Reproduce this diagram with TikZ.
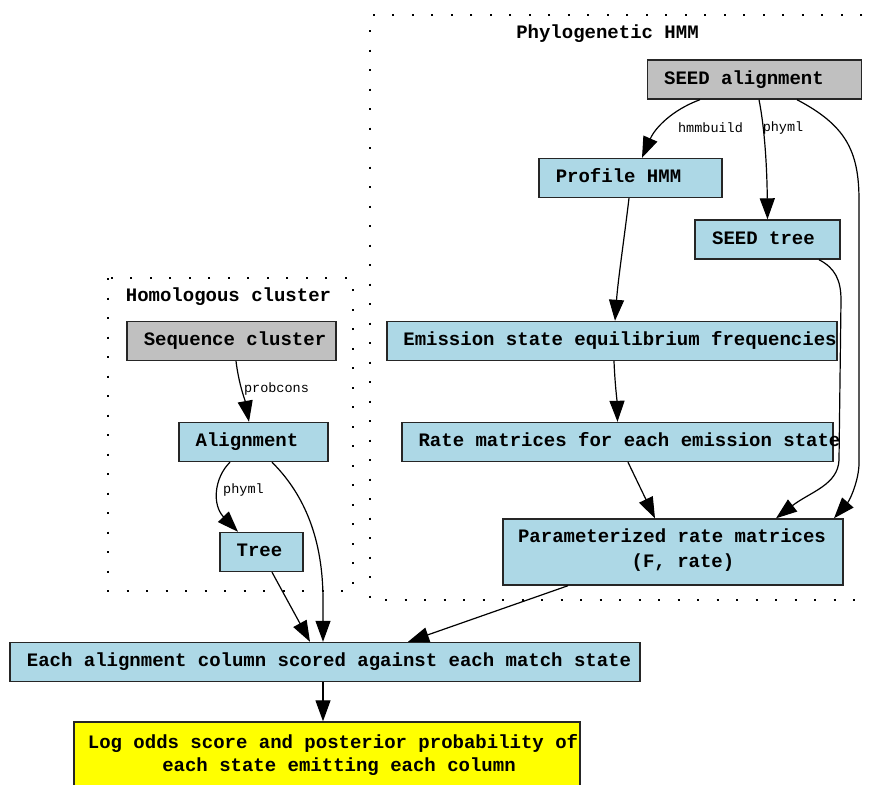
\documentclass[tikz,border=0pt]{standalone}
\usepackage{fontspec}
\newfontfamily\gvfont{Liberation Mono}
\usetikzlibrary{arrows.meta}
\definecolor{gvblue}{HTML}{ADD8E6}
\definecolor{gvgray}{HTML}{C0C0C0}
\definecolor{gvyellow}{HTML}{FFFF00}
\begin{document}
\begin{tikzpicture}[x=1pt,y=-1pt,
  box/.style={draw=black!85, line width=1.4pt, inner sep=0pt, minimum height=39pt},
  bluebox/.style={box, fill=gvblue},
  graybox/.style={box, fill=gvgray},
  yellowbox/.style={box, fill=gvyellow},
  txt/.style={font=\gvfont\bfseries\fontsize{19}{23}\selectfont, inner sep=0pt, text height=13pt, text depth=4pt},
  elabel/.style={font=\gvfont\fontsize{13.5}{16}\selectfont, inner sep=0pt},
  edge/.style={line width=1.2pt, -{Triangle[length=21pt,width=15pt]}},
  cluster/.style={line width=2pt, dash pattern=on 2pt off 17.5pt, line cap=butt}
]
\clip (0,0) rectangle (871,785);
\fill[white] (0,0) rectangle (871,785);

% cluster frames
\draw[cluster] (862,15) -- (370,15) -- (370,600) -- (862,600);
\draw[cluster] (108,278) rectangle (353,591);
\node[txt] (phylotitle) at (607.5,34) {Phylogenetic HMM};
\node[txt] (homtitle) at (228.5,297) {Homologous cluster};

% phylogenetic HMM pipeline
\node[graybox, minimum width=214pt, label={[txt,xshift=-10.5pt]center:SEED alignment}] (seed) at (754.5,79.5) {};
\node[bluebox, minimum width=183pt, label={[txt,xshift=-12pt]center:Profile HMM}] (profile) at (630.5,178) {};
\node[bluebox, minimum width=145pt, label={[txt,xshift=-4pt]center:SEED tree}] (seedtree) at (767.5,239.5) {};
\node[bluebox, minimum width=450pt, label={[txt,xshift=8pt]center:Emission state equilibrium frequencies}] (emis) at (612,341) {};
\node[bluebox, minimum width=431pt, label={[txt,xshift=12pt]center:Rate matrices for each emission state}] (rate) at (617.5,442) {};
\node[bluebox, minimum width=340pt, minimum height=66pt,
  label={[txt,xshift=-1pt,yshift=14pt]center:Parameterized rate matrices},
  label={[txt,xshift=10pt,yshift=-11pt]center:(F, rate)}] (param) at (673,552) {};

% homologous cluster pipeline
\node[graybox, minimum width=209pt, label={[txt,xshift=3.5pt]center:Sequence cluster}] (seqc) at (231.5,341) {};
\node[bluebox, minimum width=149pt, label={[txt,xshift=-6.5pt]center:Alignment}] (align) at (253.5,442) {};
\node[bluebox, minimum width=83pt, label={[txt,xshift=-2pt]center:Tree}] (tree) at (261.5,552) {};

% scoring
\node[bluebox, minimum width=630pt, label={[txt,xshift=4pt]center:Each alignment column scored against each match state}] (each) at (325,662) {};
\node[yellowbox, minimum width=506pt, minimum height=66pt,
  label={[txt,xshift=6pt,yshift=11pt]center:Log odds score and posterior probability of},
  label={[txt,xshift=12pt,yshift=-12pt]center:each state emitting each column}] (logodds) at (327,755) {};

% connectors
\draw[edge] ([xshift=-54.5pt]seed.south) .. controls (672,110) and (655,128) .. ([xshift=11.5pt]profile.north);
\node[elabel] (lblhmm) at (710.5,128) {hmmbuild};
\draw[edge] ([xshift=4.5pt]seed.south) .. controls (765,130) and (767,170) .. (seedtree.north);
\node[elabel] (lblphy) at (783,128) {phyml};
\draw[edge] ([xshift=42.5pt]seed.south) .. controls (845,125) and (859,150) .. (859,200) -- (859,463) .. controls (859,480) and (850,500) .. ([xshift=161pt]param.north);
\draw[edge] ([xshift=51.5pt]seedtree.south) .. controls (835,268) and (841,280) .. (841,300) -- (839,460) .. controls (838,485) and (810,492) .. ([xshift=103pt]param.north);
\draw[edge] ([xshift=-1.5pt]profile.south) .. controls (624,240) and (618,280) .. ([xshift=3pt]emis.north);
\draw[edge] ([xshift=2pt]emis.south) .. controls (615,385) and (617,400) .. (rate.north);
\draw[edge] ([xshift=10.5pt]rate.south) -- ([xshift=-18pt]param.north);

\draw[edge] ([xshift=4.5pt]seqc.south) .. controls (239,385) and (245,400) .. ([xshift=-4.5pt]align.north);
\node[elabel] (lblprob) at (276.5,389) {probcons};
\draw[edge] ([xshift=-23.5pt]align.south) .. controls (214,478) and (212,505) .. ([xshift=-23.5pt]tree.north);
\node[elabel] (lblphy2) at (243.5,490) {phyml};
\draw[edge] ([xshift=18.5pt]align.south) .. controls (305,495) and (323,540) .. (323,600) -- ([xshift=-2pt]each.north);
\draw[edge] ([xshift=10.5pt]tree.south) -- ([xshift=-15pt]each.north);
\draw[edge] ([xshift=-105pt]param.south) -- ([xshift=83pt]each.north);
\draw[edge] ([xshift=-2pt]each.south) -- ([xshift=-4pt]logodds.north);
\end{tikzpicture}
\end{document}
